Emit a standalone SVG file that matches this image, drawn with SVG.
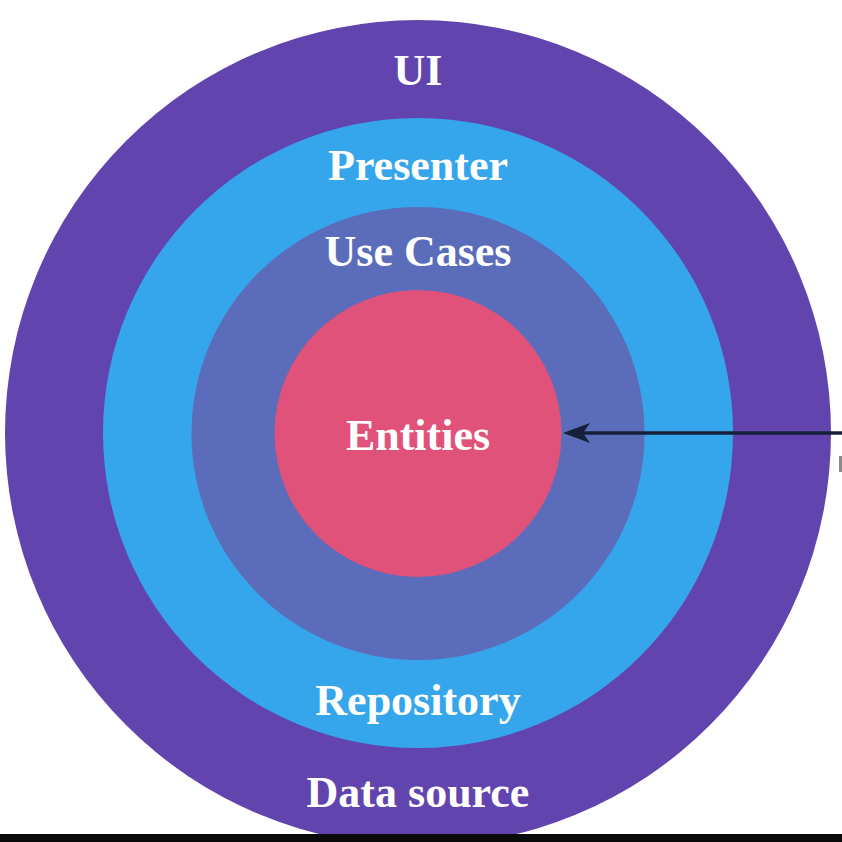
<svg xmlns="http://www.w3.org/2000/svg" width="842" height="842" viewBox="0 0 842 842">
  <style>
    .lbl { font-family: "Liberation Serif", "DejaVu Serif", serif; font-weight: bold; font-size: 44px; fill: #ffffff; text-anchor: middle; }
  </style>
  <defs>
    <marker id="arrow" markerWidth="27" markerHeight="20" refX="20" refY="10" orient="auto" markerUnits="userSpaceOnUse" viewBox="0 0 27 20">
      <path d="M0,0 L27,10 L0,20 L7,10 Z" fill="#16203a"/>
    </marker>
  </defs>
  <rect x="0" y="0" width="842" height="842" fill="#ffffff"/>
  <g id="data-source">
    <circle cx="418" cy="433" r="413" fill="#6244af"/>
    <text class="lbl" x="418" y="85">UI</text>
    <text class="lbl" x="418" y="807">Data source</text>
  </g>
  <g id="presenter">
    <circle cx="418" cy="433" r="315" fill="#36a6ec"/>
    <text class="lbl" x="418" y="180">Presenter</text>
    <text class="lbl" x="418" y="715">Repository</text>
  </g>
  <g id="use-cases">
    <circle cx="418" cy="433.5" r="226.5" fill="#5b6cba"/>
    <text class="lbl" x="418" y="266">Use Cases</text>
  </g>
  <g id="entities">
    <circle cx="418" cy="433.5" r="143.5" fill="#e0527a"/>
    <text class="lbl" x="418" y="450">Entities</text>
  </g>
  <g id="connectors">
    <line x1="842" y1="433" x2="570" y2="433" stroke="#16203a" stroke-width="3.5" marker-end="url(#arrow)"/>
  </g>
  <rect x="0" y="834" width="842" height="8" fill="#0a0a0a"/>
  <rect x="839" y="456" width="3" height="16" fill="#8a8a8a"/>
</svg>
